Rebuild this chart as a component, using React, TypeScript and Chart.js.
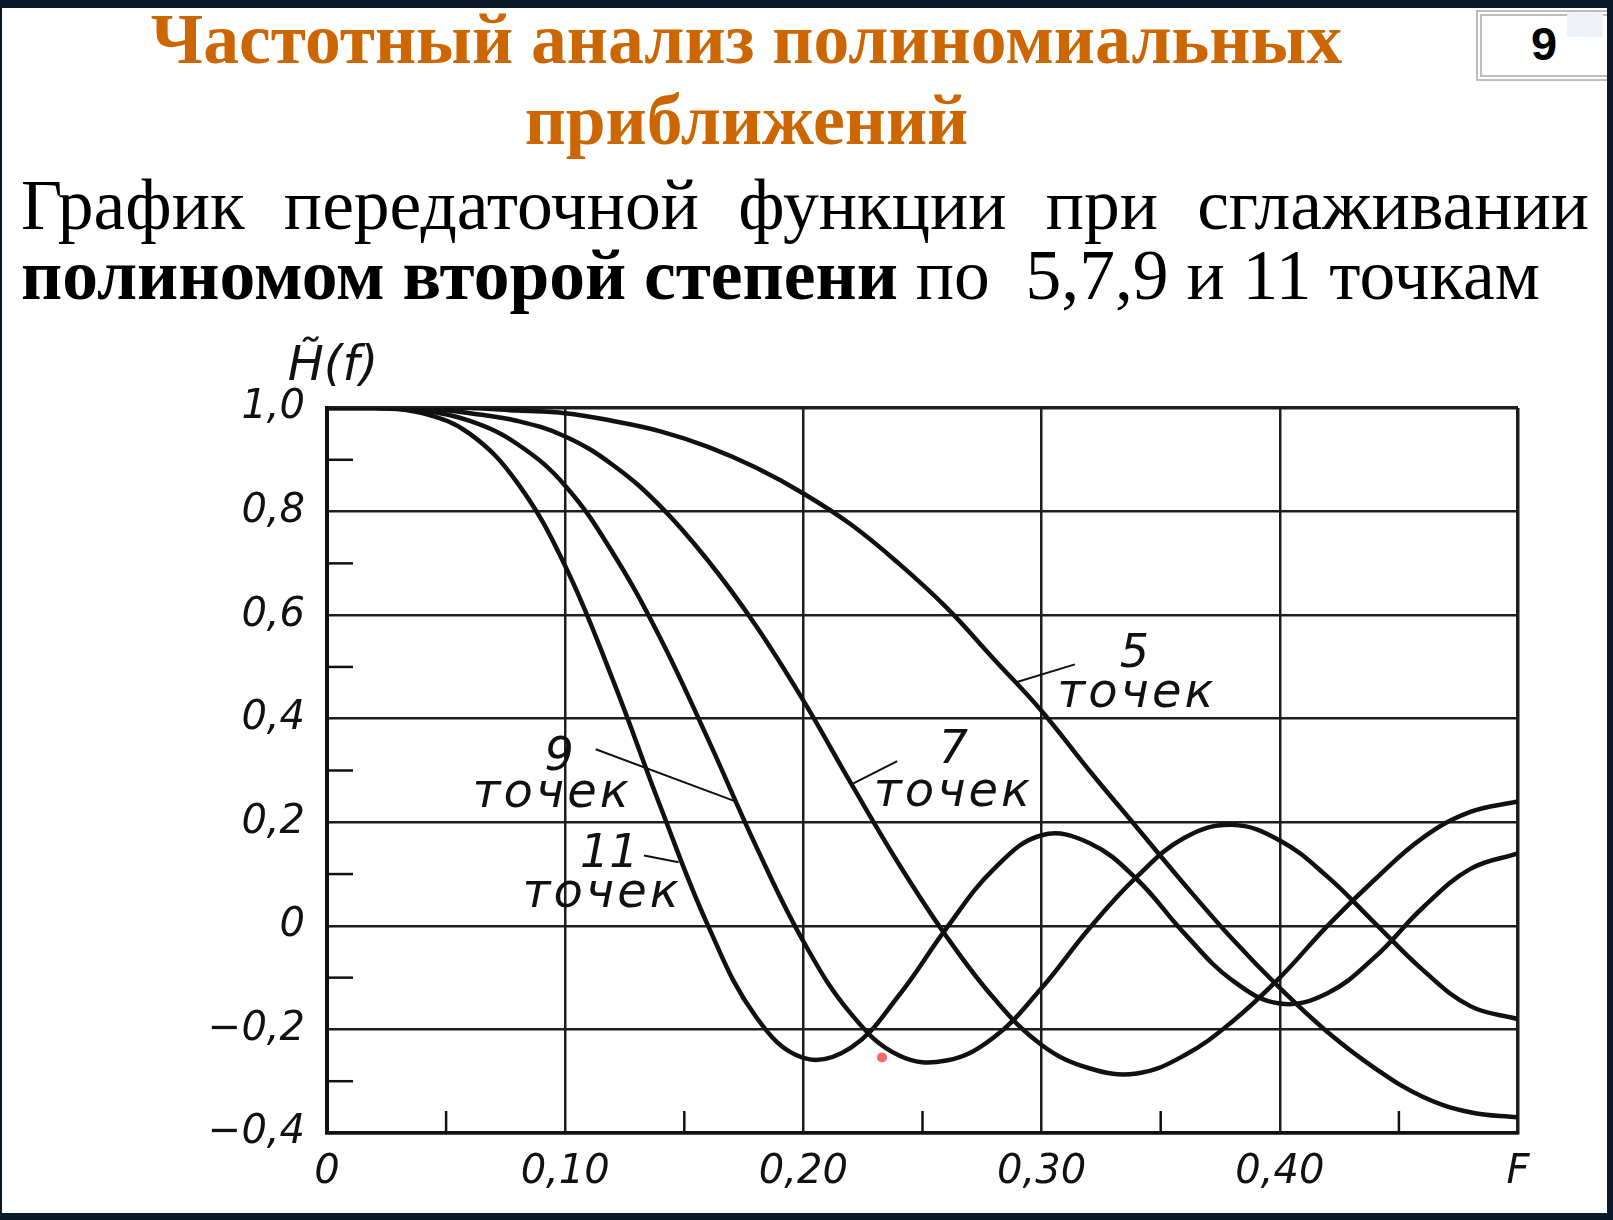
import React, { useEffect, useRef } from "react";
import { Chart, registerables } from "chart.js";

Chart.register(...registerables);

// ---- data ----
const freqs = [0, 0.02, 0.04, 0.06, 0.08, 0.1, 0.12, 0.14, 0.16, 0.18, 0.2, 0.22, 0.24, 0.26, 0.28, 0.3, 0.32, 0.34, 0.36, 0.38, 0.4, 0.42, 0.44, 0.46, 0.48, 0.5];
const h5 = [1.0, 1.0, 1.0, 1.0, 0.995, 0.99, 0.975, 0.955, 0.925, 0.885, 0.835, 0.775, 0.7, 0.615, 0.515, 0.415, 0.3, 0.19, 0.08, -0.025, -0.12, -0.205, -0.275, -0.33, -0.36, -0.37];
const h7 = [1.0, 1.0, 1.0, 0.99, 0.975, 0.945, 0.89, 0.81, 0.705, 0.58, 0.435, 0.275, 0.12, -0.02, -0.14, -0.23, -0.275, -0.285, -0.25, -0.185, -0.1, 0.0, 0.09, 0.17, 0.22, 0.24];
const h9 = [1.0, 1.0, 0.995, 0.975, 0.93, 0.85, 0.72, 0.555, 0.36, 0.155, -0.03, -0.17, -0.25, -0.26, -0.215, -0.12, -0.005, 0.095, 0.17, 0.195, 0.165, 0.095, 0.005, -0.085, -0.155, -0.18];
const h11 = [1.0, 1.0, 0.99, 0.95, 0.855, 0.695, 0.475, 0.23, 0.0, -0.175, -0.255, -0.235, -0.135, -0.005, 0.11, 0.175, 0.16, 0.09, -0.015, -0.105, -0.15, -0.13, -0.06, 0.035, 0.11, 0.14];

const xTickValues = [0, 0.1, 0.2, 0.3, 0.4, 0.5];
const xTickLabels = ["0", "0,10", "0,20", "0,30", "0,40", "F"];
const yTickValues = [-0.4, -0.2, 0, 0.2, 0.4, 0.6, 0.8, 1.0];
const yTickLabels = ["\u22120,4", "\u22120,2", "0", "0,2", "0,4", "0,6", "0,8", "1,0"];
const xMinorTicks = [0.05, 0.15, 0.25, 0.35, 0.45];
const yMinorTicks = [0.9, 0.7, 0.5, 0.3, 0.1, -0.1, -0.3];

const curveLabelTexts = ["5", "точек", "7", "точек", "9", "точек", "11", "точек"];
const curveLabelF = [0.339, 0.34, 0.263, 0.263, 0.0975, 0.0945, 0.1185, 0.1155];
const curveLabelV = [0.523, 0.447, 0.338, 0.256, 0.325, 0.253, 0.137, 0.06];

const leaderFrom = [[0.289, 0.47], [0.221, 0.275], [0.1128, 0.341], [0.1331, 0.136]];
const leaderTo = [[0.314, 0.505], [0.2394, 0.318], [0.1723, 0.239], [0.1476, 0.123]];

const axisTitle = "H\u0303(f)";
const markerF = [0.233];
const markerV = [-0.254];

const titleLine1 = "Частотный анализ полиномиальных";
const titleLine2 = "приближений";
const subLine1 = "График передаточной функции при сглаживании";
const subBold = "полиномом второй степени";
const subRest = " по  5,7,9 и 11 точкам";
const slideNumber = "9";

// ---- styles ----
const INK = "#111111";
const GRID = "#1e1e1e";
const TICK_FONT = { family: "DejaVu Sans", style: "italic" as const, size: 40 };

const overlayPlugin = {
  id: "overlay",
  afterDatasetsDraw(chart: any) {
    const { ctx, chartArea } = chart;
    const x = chart.scales.x;
    const y = chart.scales.y;
    ctx.save();
    ctx.strokeStyle = INK;
    ctx.lineWidth = 2.5;
    yMinorTicks.forEach((v) => {
      const py = y.getPixelForValue(v);
      ctx.beginPath();
      ctx.moveTo(chartArea.left, py);
      ctx.lineTo(chartArea.left + 26, py);
      ctx.stroke();
    });
    xMinorTicks.forEach((f) => {
      const px = x.getPixelForValue(f);
      ctx.beginPath();
      ctx.moveTo(px, chartArea.bottom);
      ctx.lineTo(px, chartArea.bottom - 22);
      ctx.stroke();
    });
    ctx.lineWidth = 2;
    leaderFrom.forEach((a, i) => {
      const b = leaderTo[i];
      ctx.beginPath();
      ctx.moveTo(x.getPixelForValue(a[0]), y.getPixelForValue(a[1]));
      ctx.lineTo(x.getPixelForValue(b[0]), y.getPixelForValue(b[1]));
      ctx.stroke();
    });
    ctx.fillStyle = INK;
    ctx.textAlign = "center";
    ctx.textBaseline = "middle";
    curveLabelTexts.forEach((t, i) => {
      const isWord = t.length > 2;
      ctx.font = isWord ? 'italic 48px "DejaVu Sans"' : 'italic 46px "DejaVu Sans"';
      (ctx as any).letterSpacing = isWord ? "3px" : "0px";
      ctx.fillText(t, x.getPixelForValue(curveLabelF[i]), y.getPixelForValue(curveLabelV[i]));
    });
    (ctx as any).letterSpacing = "0px";
    ctx.font = 'italic 48px "DejaVu Sans"';
    ctx.fillText(axisTitle, chartArea.left + 6, chartArea.top - 40);
    ctx.restore();
  },
};

function TransferChart() {
  const ref = useRef<HTMLCanvasElement | null>(null);
  useEffect(() => {
    if (!ref.current) return;
    const mk = (arr: number[]) => freqs.map((f, i) => ({ x: f, y: arr[i] }));
    const lineDs = (label: string, arr: number[]) => ({
      type: "line" as const,
      label,
      data: mk(arr),
      borderColor: INK,
      borderWidth: 4.5,
      pointRadius: 0,
      tension: 0.4,
      fill: false,
    });
    const chart = new Chart(ref.current, {
      type: "line",
      data: {
        datasets: [
          lineDs("5 точек", h5),
          lineDs("7 точек", h7),
          lineDs("9 точек", h9),
          lineDs("11 точек", h11),
          {
            type: "scatter" as const,
            label: "marker",
            data: markerF.map((f, i) => ({ x: f, y: markerV[i] })),
            pointRadius: 5,
            pointBackgroundColor: "#f26b6b",
            pointBorderWidth: 0,
            borderColor: "#f26b6b",
          } as any,
        ],
      },
      options: {
        animation: false,
        responsive: false,
        maintainAspectRatio: false,
        layout: { padding: { left: 0, top: 108, right: 89, bottom: 0 } },
        plugins: { legend: { display: false }, tooltip: { enabled: false }, title: { display: false } },
        scales: {
          x: {
            type: "linear",
            min: 0,
            max: 0.5,
            afterBuildTicks: (s: any) => {
              s.ticks = xTickValues.map((v) => ({ value: v }));
            },
            afterFit: (s: any) => {
              s.height = 80;
            },
            grid: {
              color: GRID,
              lineWidth: (c: any) => (c.tick && c.tick.value === 0.5 ? 3.5 : 2.5),
              drawTicks: false,
            },
            border: { display: true, color: INK, width: 3.5 },
            ticks: {
              autoSkip: false,
              maxRotation: 0,
              padding: 16,
              color: INK,
              font: TICK_FONT,
              callback: (_v: any, i: number) => xTickLabels[i],
            },
          },
          y: {
            type: "linear",
            min: -0.4,
            max: 1.0,
            afterBuildTicks: (s: any) => {
              s.ticks = yTickValues.map((v) => ({ value: v }));
            },
            afterFit: (s: any) => {
              s.width = 325;
            },
            grid: {
              color: GRID,
              lineWidth: (c: any) => (c.tick && c.tick.value === 1 ? 3.5 : 2.5),
              drawTicks: false,
            },
            border: { display: true, color: INK, width: 4 },
            ticks: {
              padding: 22,
              color: INK,
              font: TICK_FONT,
              callback: (_v: any, i: number) => yTickLabels[i],
            },
          },
        },
      },
      plugins: [overlayPlugin],
    });
    return () => chart.destroy();
  }, []);
  return (
    <canvas
      ref={ref}
      width={1605}
      height={913}
      style={{ position: "absolute", left: 0, top: 292, width: 1605, height: 913 }}
    />
  );
}

export default function App() {
  const serif = '"Liberation Serif", "Times New Roman", serif';
  return (
    <div style={{ position: "fixed", left: 0, top: 0, width: 1613, height: 1220, background: "#0a192c" }}>
      <div
        style={{
          position: "absolute",
          left: 2,
          top: 8,
          width: 1605,
          height: 1205,
          background: "#ffffff",
          overflow: "hidden",
        }}
      >
        <div
          style={{
            position: "absolute",
            left: -2,
            top: -10,
            width: 1493,
            textAlign: "center",
            fontFamily: serif,
            fontWeight: "bold",
            fontSize: 71.5,
            lineHeight: "81px",
            color: "#cc6600",
            whiteSpace: "nowrap",
          }}
        >
          <div>{titleLine1}</div>
          <div>{titleLine2}</div>
        </div>
        <div
          style={{
            position: "absolute",
            left: 1474,
            top: 2,
            width: 150,
            height: 59,
            border: "6px double #bdbdbd",
            background: "#fff",
          }}
        />
        <div style={{ position: "absolute", left: 1565, top: 4, width: 36, height: 25, background: "#eef1f6" }} />
        <div
          style={{
            position: "absolute",
            left: 1502,
            top: 12,
            width: 80,
            textAlign: "center",
            fontFamily: '"Liberation Sans", Arial, sans-serif',
            fontWeight: "bold",
            fontSize: 47,
            lineHeight: "47px",
            color: "#000",
          }}
        >
          {slideNumber}
        </div>
        <div
          style={{
            position: "absolute",
            left: 19,
            top: 161,
            width: 1568,
            fontFamily: serif,
            fontSize: 71.5,
            lineHeight: "71.5px",
            color: "#000",
            textAlign: "justify",
            textAlignLast: "justify" as any,
            whiteSpace: "nowrap",
          }}
        >
          {subLine1}
        </div>
        <div
          style={{
            position: "absolute",
            left: 19,
            top: 231,
            fontFamily: serif,
            fontSize: 71.5,
            lineHeight: "71.5px",
            color: "#000",
            whiteSpace: "pre",
          }}
        >
          <b>{subBold}</b>
          {subRest}
        </div>
        <TransferChart />
      </div>
    </div>
  );
}
